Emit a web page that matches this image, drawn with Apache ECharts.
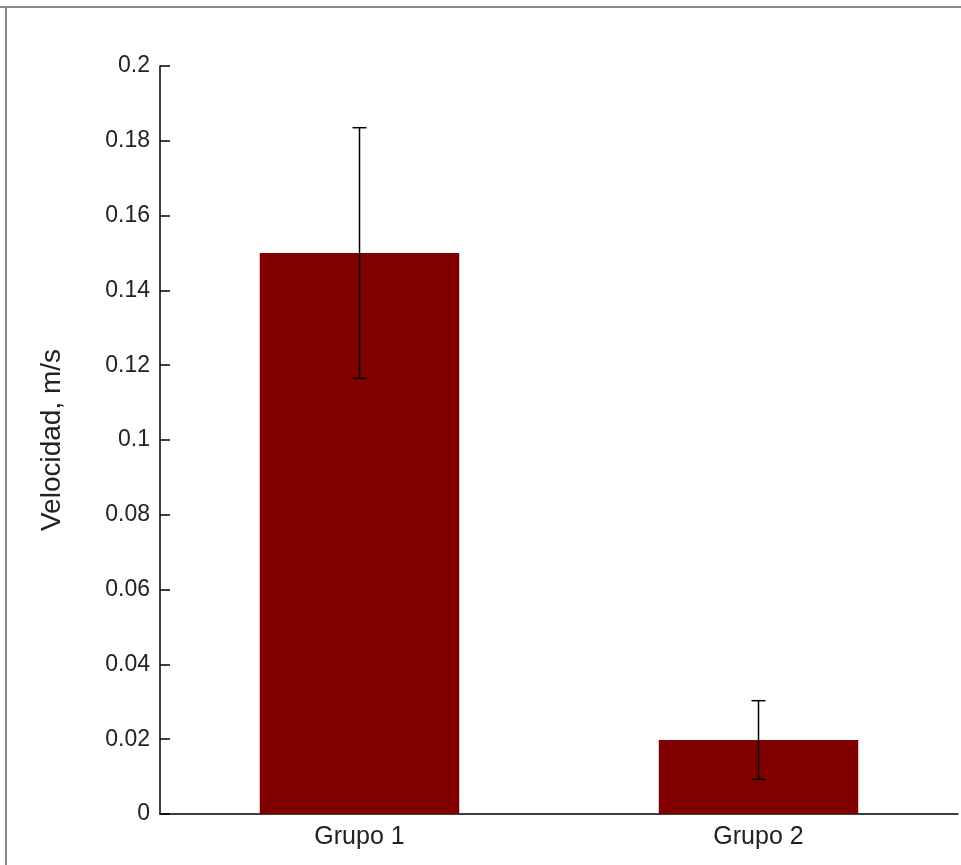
<!DOCTYPE html>
<html>
<head>
<meta charset="utf-8">
<script src="https://cdn.jsdelivr.net/npm/echarts@6/dist/echarts.min.js"></script>
<style>
  html, body { margin: 0; padding: 0; background: #ffffff; }
  #chart { width: 961px; height: 865px; }
</style>
</head>
<body>
<div id="chart"></div>
<script>
// Group labels, mean speeds and the half-width of each error bar
const categories = ['Grupo 1', 'Grupo 2'];
const meanSpeed = [0.15, 0.0198];
const errorHalf = [0.0335, 0.0105];
const yTicks = [0, 0.02, 0.04, 0.06, 0.08, 0.1, 0.12, 0.14, 0.16, 0.18, 0.2];

const errorData = categories.map((c, i) => [i, meanSpeed[i] - errorHalf[i], meanSpeed[i] + errorHalf[i]]);

const chart = echarts.init(document.getElementById('chart'), null, { renderer: 'canvas' });

const textColor = '#222222';
const font = '"Liberation Sans", Arial, sans-serif';

chart.setOption({
  animation: false,
  backgroundColor: '#ffffff',
  grid: { left: 160, right: 3, top: 66, bottom: 51, containLabel: false },
  xAxis: {
    type: 'category',
    data: categories,
    axisLine: { show: true, lineStyle: { color: '#000', width: 1.5 } },
    axisTick: { show: false },
    axisLabel: { color: textColor, fontFamily: font, fontSize: 25, margin: 11 },
    splitLine: { show: false }
  },
  yAxis: {
    type: 'value',
    min: 0,
    max: 0.2,
    interval: 0.02,
    name: 'Velocidad, m/s',
    nameLocation: 'middle',
    nameGap: 94,
    nameTextStyle: { color: textColor, fontFamily: font, fontSize: 28 },
    axisLine: { show: true, lineStyle: { color: '#000', width: 1.5 } },
    axisTick: { show: true, inside: true, length: 10, lineStyle: { color: '#000', width: 1.5 } },
    axisLabel: {
      color: textColor, fontFamily: font, fontSize: 23, margin: 10,
      formatter: v => {
        const t = yTicks.find(k => Math.abs(k - v) < 1e-9);
        return t === undefined ? '' : String(+t.toFixed(2));
      }
    },
    splitLine: { show: false }
  },
  series: [
    {
      type: 'bar',
      data: meanSpeed,
      barWidth: '50%',
      itemStyle: { color: '#800000' },
      z: 2
    },
    {
      type: 'custom',
      z: 5,
      data: errorData,
      renderItem: (params, api) => {
        const x = api.value(0);
        const lo = api.coord([x, api.value(1)]);
        const hi = api.coord([x, api.value(2)]);
        const cap = 7;
        const style = { stroke: '#000', lineWidth: 1.5 };
        return {
          type: 'group',
          children: [
            { type: 'line', shape: { x1: hi[0], y1: hi[1], x2: lo[0], y2: lo[1] }, style },
            { type: 'line', shape: { x1: hi[0] - cap, y1: hi[1], x2: hi[0] + cap, y2: hi[1] }, style },
            { type: 'line', shape: { x1: lo[0] - cap, y1: lo[1], x2: lo[0] + cap, y2: lo[1] }, style }
          ]
        };
      }
    }
  ],
  graphic: [
    // window frame edges along the top and left
    { type: 'rect', shape: { x: 0, y: 6, width: 961, height: 2 }, style: { fill: '#8a8a8a' }, silent: true },
    { type: 'rect', shape: { x: 5, y: 6, width: 2, height: 859 }, style: { fill: '#8a8a8a' }, silent: true }
  ]
});
</script>
</body>
</html>
